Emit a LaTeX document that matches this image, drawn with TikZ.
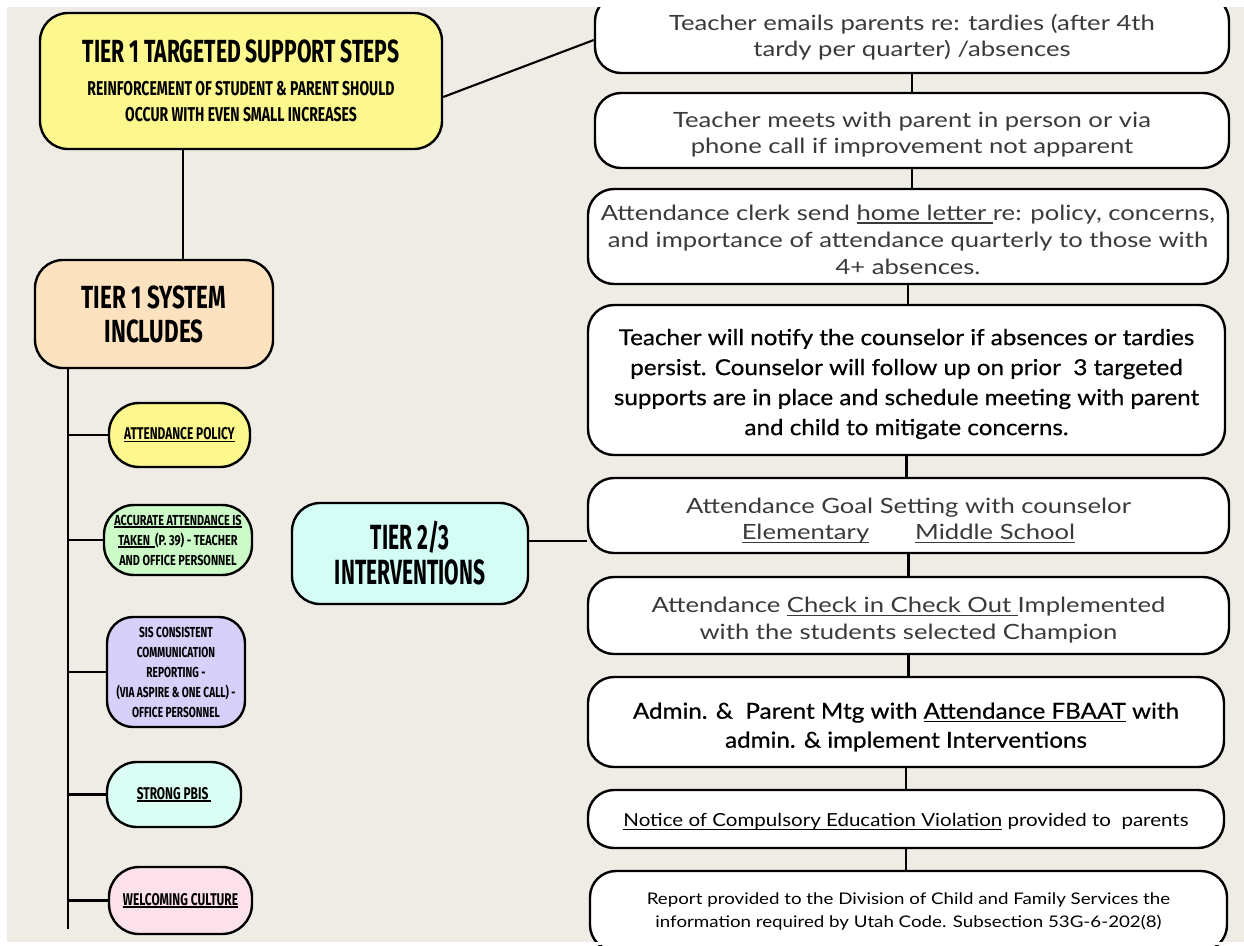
\documentclass[tikz,border=0pt]{standalone}
\usepackage{fontspec}
\setmainfont{Lato}
\newfontfamily\fgrey{Lato}[FakeStretch=1.22]
\newfontfamily\fblkA{Lato}[FakeStretch=1.1, FakeBold=0.6]
\newfontfamily\fblkB{Lato}[FakeStretch=1.14]
\newfontfamily\fblkC{Lato}[FakeStretch=1.17]
\newfontfamily\handS{Fira Sans}[FakeStretch=0.6]
\newfontfamily\handM{Fira Sans}[FakeStretch=0.66]
\newfontfamily\handL{Fira Sans}[FakeStretch=0.7]
\newfontfamily\handX{Fira Sans}[FakeStretch=0.75]
\newlength\uldep \setlength\uldep{3.5pt}
\newsavebox\ulbox
\newcommand\uline[1]{\leavevmode\sbox\ulbox{#1}\rlap{\rule[-\uldep]{\wd\ulbox}{1.3pt}}\usebox\ulbox}
\newcommand\sul[1]{\setlength\uldep{2.5pt}\uline{#1}}
\newcommand\subfont{\handL\bfseries\fontsize{20}{26}\selectfont}
\definecolor{bg}{HTML}{EFECE5}
\definecolor{yel}{HTML}{FCF88E}
\definecolor{peach}{HTML}{FDE2C0}
\definecolor{mint}{HTML}{CCFBC8}
\definecolor{lilac}{HTML}{D6D0FB}
\definecolor{aqua}{HTML}{DAFDF4}
\definecolor{aqua2}{HTML}{D4FDF6}
\definecolor{pink}{HTML}{FDE1EA}
\definecolor{tgrey}{HTML}{3A3A3A}
\tikzset{
  rbox/.style={draw=black, line width=2.4pt, fill=white, rounded corners=26pt, inner sep=0pt},
  rtxt/.style={inner sep=0pt, align=center, text=tgrey},
  hbox/.style={draw=black, line width=2.4pt, rounded corners=28pt, inner sep=0pt, align=center, text=black},
  pill/.style={draw=black, line width=2.4pt, rounded corners=30pt, inner sep=0pt, align=center, text=black},
  conn/.style={line width=2.1pt, draw=black},
  smalltxt/.style={font=\handL\bfseries\fontsize{14.5}{20}\selectfont},
}
\begin{document}
\begin{tikzpicture}[x=1pt,y=-1pt]
\useasboundingbox (0,0) rectangle (1244,945);
\fill[white] (0,0) rectangle (1244,945);
\fill[bg] (7,7) rectangle (1244,942);

% right column boxes
\node[rbox, minimum width=634pt, minimum height=78pt] (n1) at (912,34) {};
\node[rbox, minimum width=634pt, minimum height=75pt] (n2) at (912,130.5) {};
\node[rbox, minimum width=640pt, minimum height=95pt] (n3) at (908,236.5) {};
\node[rbox, minimum width=637pt, minimum height=150pt] (n4) at (906.5,380) {};
\node[rbox, minimum width=641pt, minimum height=75pt] (n5) at (908.5,515.5) {};
\node[rbox, minimum width=641pt, minimum height=77pt] (n6) at (908.5,615.5) {};
\node[rbox, minimum width=636pt, minimum height=90pt] (n7) at (906,722) {};
\node[rbox, minimum width=636pt, minimum height=58pt] (n8) at (906,819) {};
\node[rbox, minimum width=637pt, minimum height=80pt] (n9) at (908.5,911) {};

% right column texts
\node[rtxt, font=\fgrey\fontsize{21}{26}\selectfont] (n1t) at ([yshift=-3pt]n1.center)
  {Teacher emails parents re: tardies (after 4th\\ tardy per quarter) /absences};
\node[rtxt, font=\fgrey\fontsize{21}{26}\selectfont] (n2t) at ([yshift=-4pt]n2.center)
  {Teacher meets with parent in person or via\\ phone call if improvement not apparent};
\node[rtxt, font=\fgrey\fontsize{21}{27}\selectfont] (n3t) at ([yshift=-3pt]n3.center)
  {Attendance clerk send \uline{home letter }re: policy, concerns,\\ and importance of attendance quarterly to those with\\ 4+ absences.};
\node[rtxt, text=black, font=\fblkA\fontsize{22}{30}\selectfont] (n4t) at ([yshift=-4pt]n4.center)
  {Teacher will notify the counselor if absences or tardies\\ persist. Counselor will follow up on prior\ \ 3 targeted\\ supports are in place and schedule meeting with parent\\ and child to mitigate concerns.};
\node[rtxt, font=\fgrey\fontsize{21}{26}\selectfont] (n5t) at ([yshift=-5pt]n5.center)
  {Attendance Goal Setting with counselor\\ \uline{Elementary}\hspace{46pt}\uline{Middle School}};
\node[rtxt, font=\fgrey\fontsize{21}{27}\selectfont] (n6t) at ([yshift=-5pt]n6.center)
  {Attendance \uline{Check in Check Out }Implemented\\ with the students selected Champion};
\node[rtxt, text=black, font=\fblkA\fontsize{22}{29}\selectfont] (n7t) at ([yshift=-5pt]n7.center)
  {Admin. \&\ \ Parent Mtg with \uline{Attendance FBAAT} with\\ admin. \& implement Interventions};
\node[rtxt, text=black, font=\fblkB\fontsize{18}{22}\selectfont] (n8t) at ([yshift=-3pt]n8.center)
  {\uline{Notice of Compulsory Education Violation} provided to\ \ parents};
\node[rtxt, text=black, font=\fblkC\fontsize{16}{23}\selectfont] (n9t) at ([yshift=0pt]n9.center)
  {Report provided to the Division of Child and Family Services the\\ information required by Utah Code. Subsection 53G-6-202(8)};

\foreach \a/\b in {n1/n2,n2/n3,n3/n4,n4/n5,n5/n6,n6/n7,n7/n8,n8/n9}
  \draw[conn] (\a.south) -- (\a.south |- \b.north);

% left column
\node[hbox, fill=yel, minimum width=402pt, minimum height=136pt, font=\handM\bfseries\fontsize{32}{32}\selectfont] (t1) at (241,81)
  {TIER 1 TARGETED SUPPORT STEPS\\[1pt]
   \subfont REINFORCEMENT OF STUDENT \& PARENT SHOULD\\[-6pt] \subfont OCCUR WITH EVEN SMALL INCREASES};
\node[hbox, fill=peach, minimum width=238pt, minimum height=108pt, font=\handL\bfseries\fontsize{32}{34}\selectfont] (t1s) at (154,314)
  {TIER 1 SYSTEM\\ INCLUDES};
\node[hbox, fill=aqua2, minimum width=236pt, minimum height=101pt, font=\handS\bfseries\fontsize{35}{35}\selectfont] (t23) at (410,553.5)
  {TIER 2/3\\ INTERVENTIONS};

\node[pill, fill=yel, minimum width=141pt, minimum height=64pt, font=\handL\bfseries\fontsize{17}{20}\selectfont] (s1) at (179.5,435)
  {\sul{ATTENDANCE POLICY}};
\node[pill, fill=mint, minimum width=148pt, minimum height=70pt, font=\handX\bfseries\fontsize{14.5}{20}\selectfont] (s2) at (178,540)
  {\sul{ACCURATE ATTENDANCE IS}\\ \sul{TAKEN\ \ }(P. 39) - TEACHER\\ AND OFFICE PERSONNEL};
\node[pill, rounded corners=26pt, fill=lilac, minimum width=138pt, minimum height=110pt, smalltxt] (s3) at (176,672)
  {SIS CONSISTENT\\ COMMUNICATION\\ REPORTING -\\ (VIA ASPIRE \& ONE CALL) -\\ OFFICE PERSONNEL};
\node[pill, fill=aqua, minimum width=134pt, minimum height=65pt, font=\handL\bfseries\fontsize{17}{20}\selectfont] (s4) at (174,794.5)
  {\sul{STRONG PBIS }};
\node[pill, fill=pink, minimum width=143pt, minimum height=67pt, font=\handL\bfseries\fontsize{17}{20}\selectfont] (s5) at (180.5,900.5)
  {\sul{WELCOMING CULTURE}};

% connectors left
\coordinate (mid) at (183,0);
\coordinate (spineEnd) at (68,929);
\draw[conn] (t1.south -| mid) -- (t1s.north -| mid);
\draw[conn] ([yshift=-16pt]t1.east) -- ([yshift=-6pt]n1.west);
\draw[conn] (t1s.south -| spineEnd) -- (spineEnd);
\foreach \s in {s1,s2,s3,s4,s5}
  \draw[conn] (\s.west -| spineEnd) -- (\s.west);
\draw[conn] ([yshift=12.5pt]t23.east) -- ([yshift=12.5pt]t23.east -| n5.west);

% page margins
\fill[white] (0,0) rectangle (1244,7);
\fill[white] (0,0) rectangle (7,945);
\fill[white] (0,942) rectangle (1244,945);
\end{tikzpicture}
\end{document}
